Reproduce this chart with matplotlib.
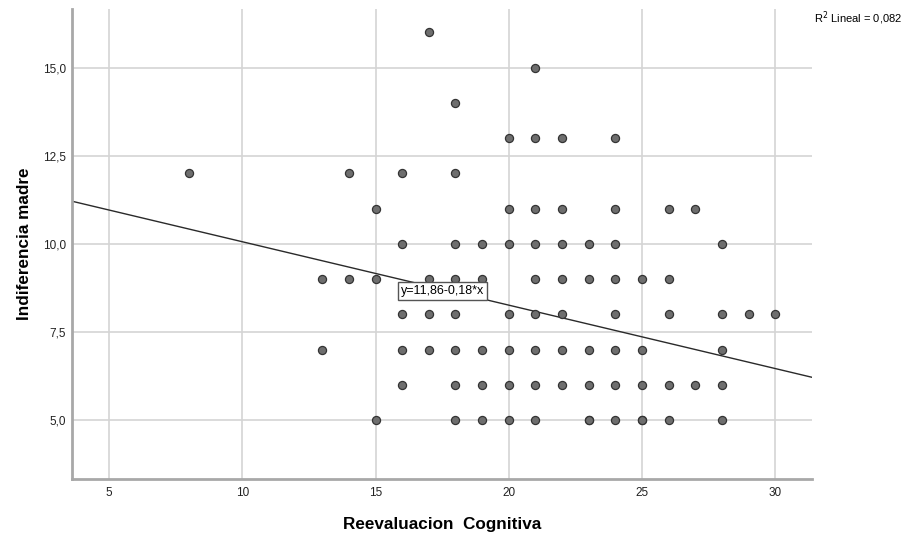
import numpy as np
import matplotlib.pyplot as plt

plt.rcParams['font.family'] = ['Liberation Sans', 'DejaVu Sans']

# Reevaluacion Cognitiva (x) vs Indiferencia madre (y)
reevaluacion = [8,
                13, 13,
                14, 14,
                15, 15, 15,
                16, 16, 16, 16, 16,
                17, 17, 17, 17,
                18, 18, 18, 18, 18, 18, 18, 18,
                19, 19, 19, 19, 19,
                20, 20, 20, 20, 20, 20, 20,
                21, 21, 21, 21, 21, 21, 21, 21, 21,
                22, 22, 22, 22, 22, 22, 22,
                23, 23, 23, 23, 23, 23,
                24, 24, 24, 24, 24, 24, 24, 24,
                25, 25, 25, 25, 25,
                26, 26, 26, 26, 26,
                27, 27,
                28, 28, 28, 28, 28,
                29, 30]
indiferencia = [12,
                9, 7,
                12, 9,
                11, 9, 5,
                12, 10, 8, 7, 6,
                16, 9, 8, 7,
                14, 12, 10, 9, 8, 7, 6, 5,
                10, 9, 7, 6, 5,
                13, 11, 10, 8, 7, 6, 5,
                15, 13, 11, 10, 9, 8, 7, 6, 5,
                13, 11, 10, 9, 8, 7, 6,
                10, 9, 7, 6, 5, 5,
                13, 11, 10, 9, 8, 7, 6, 5,
                9, 7, 6, 5, 5,
                11, 9, 8, 6, 5,
                11, 6,
                10, 8, 7, 6, 5,
                8, 8]

intercept = 11.86
slope = -0.18
r2_text = "R$^2$ Lineal = 0,082"
eq_text = "y=11,86-0,18*x"

xticks = [5, 10, 15, 20, 25, 30]
xticklabels = ["5", "10", "15", "20", "25", "30"]
yticks = [5.0, 7.5, 10.0, 12.5, 15.0]
yticklabels = ["5,0", "7,5", "10,0", "12,5", "15,0"]

W, H = 905, 536
fig = plt.figure(figsize=(W / 100, H / 100), dpi=100)
ax = fig.add_axes([72 / W, 1 - 479 / H, (812 - 72) / W, (479 - 9) / H])

xmin, xmax = 3.613, 31.375
ymin, ymax = 3.326, 16.665
ax.set_xlim(xmin, xmax)
ax.set_ylim(ymin, ymax)

ax.set_xticks(xticks)
ax.set_xticklabels(xticklabels)
ax.set_yticks(yticks)
ax.set_yticklabels(yticklabels)
ax.tick_params(length=0, labelsize=8.5, colors='#222222')
ax.tick_params(axis='x', pad=6)
ax.tick_params(axis='y', pad=4.5)
ax.grid(True, color='#d4d4d4', linewidth=1.2)
ax.set_axisbelow(True)

for s in ['top', 'right']:
    ax.spines[s].set_visible(False)
for s in ['left', 'bottom']:
    ax.spines[s].set_color('#a8a8a8')
    ax.spines[s].set_linewidth(2)

# regression line
xs = np.array([xmin, xmax])
ax.plot(xs, intercept + slope * xs, color='#2a2a2a', linewidth=1, zorder=2)

ax.scatter(reevaluacion, indiferencia, s=34, color='#6e6e6e',
           edgecolor='#333333', linewidth=0.9, zorder=3)

ax.text(17.51, 8.67, eq_text, fontsize=9, ha='center', va='center', zorder=4,
        bbox=dict(boxstyle='square,pad=0.25', facecolor='white',
                  edgecolor='#555555', linewidth=1))

fig.text(814 / W, 1 - 18 / H, r2_text, fontsize=8, ha='left', va='center')

ax.set_xlabel("Reevaluacion  Cognitiva", fontsize=12.3, fontweight='bold', labelpad=13)
ax.set_ylabel("Indiferencia madre", fontsize=12.3, fontweight='bold', labelpad=8)

fig.savefig("out.png", dpi=100)
